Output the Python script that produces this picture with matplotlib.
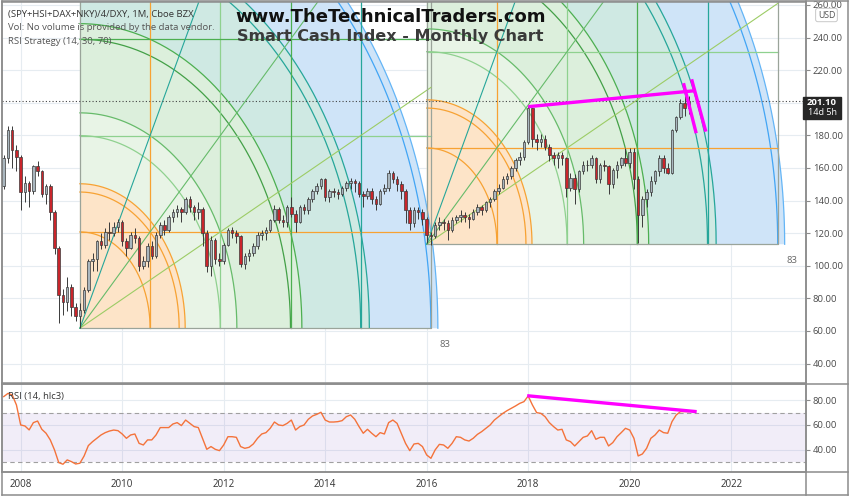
import numpy as np
import pandas as pd
import matplotlib
matplotlib.use("Agg")
import matplotlib.pyplot as plt
from matplotlib.patches import Rectangle
from matplotlib.lines import Line2D

plt.rcParams['font.family'] = ['Open Sans', 'DejaVu Sans']

# monthly bars Sep 2007 .. Mar 2021
months = pd.date_range("2007-09-01", "2021-03-01", freq="MS")
first_open = 149
closes = [
    166, 183, 171, 167,
    145, 151, 146, 161, 158, 144, 149, 133, 111, 82, 78, 87,
    75, 69, 73, 85, 103, 104, 115, 113, 121, 120, 124, 127,
    115, 111, 119, 117, 100, 103, 112, 106, 119, 125, 122, 130,
    133, 135, 133, 141, 136, 133, 135, 120, 100, 116, 104, 103,
    113, 122, 120, 118, 101, 106, 108, 112, 119, 120, 122, 128,
    135, 128, 127, 136, 132, 127, 136, 134, 141, 146, 149, 153,
    142, 146, 145, 144, 148, 151, 152, 151, 144, 143, 146, 141,
    138, 146, 148, 157, 153, 150, 146, 134, 126, 134, 133, 129,
    119, 118, 125, 127, 126, 122, 128, 130, 131, 130, 129, 133,
    136, 134, 139, 141, 146, 148, 153, 155, 160, 165, 167, 176,
    197, 178, 176, 178, 173, 168, 166, 168, 166, 148, 154, 147,
    158, 162, 162, 166, 153, 162, 161, 150, 159, 162, 166, 163,
    170, 153, 131, 141, 145, 152, 158, 166, 160, 157, 183, 191,
    200, 197, 201.1,
]
highs = [
    168, 186, 186, 174,
    168, 155, 152, 162, 164, 159, 150, 150, 134, 112, 86, 93,
    89, 77, 77, 87, 104, 108, 116, 120, 123, 127, 127, 129,
    128, 117, 121, 123, 118, 106, 114, 115, 121, 127, 128, 131,
    135, 137, 136, 142, 143, 137, 139, 136, 122, 118, 117, 108,
    114, 123, 124, 122, 119, 108, 110, 114, 121, 122, 124, 129,
    137, 136, 131, 137, 142, 134, 137, 138, 142, 147, 151, 154,
    154, 147, 148, 147, 149, 152, 154, 153, 152, 146, 148, 148,
    143, 147, 150, 159, 158, 155, 152, 147, 136, 136, 136, 135,
    130, 121, 127, 130, 129, 128, 130, 131, 134, 133, 132, 135,
    138, 137, 140, 142, 147, 150, 155, 157, 161, 166, 170, 177,
    198, 197, 181, 181, 180, 175, 170, 170, 170, 167, 157, 156,
    159, 164, 165, 168, 167, 163, 165, 162, 160, 164, 167, 172,
    172, 172, 155, 143, 147, 155, 159, 168, 168, 163, 184, 192,
    202, 204, 204,
]
lows = [
    147, 163, 160, 158,
    134, 139, 136, 144, 155, 142, 138, 128, 107, 65, 70, 72,
    69, 66, 62, 71, 84, 97, 97, 110, 111, 116, 118, 121,
    112, 106, 110, 114, 97, 98, 99, 104, 105, 117, 119, 121,
    127, 130, 127, 132, 133, 128, 129, 112, 96, 94, 101, 100,
    101, 112, 117, 114, 99, 98, 103, 106, 110, 116, 116, 121,
    127, 126, 124, 124, 130, 121, 126, 132, 132, 139, 144, 147,
    140, 139, 142, 141, 143, 146, 147, 145, 142, 136, 141, 138,
    134, 137, 144, 146, 151, 146, 141, 126, 122, 124, 129, 125,
    114, 113, 117, 122, 122, 116, 121, 126, 127, 127, 123, 128,
    131, 131, 133, 136, 140, 144, 147, 150, 153, 158, 162, 165,
    175, 173, 171, 173, 171, 164, 162, 160, 162, 142, 146, 138,
    145, 156, 158, 160, 151, 151, 158, 144, 148, 154, 160, 161,
    160, 147, 114, 124, 136, 143, 150, 155, 157, 156, 156, 182,
    190, 192, 193,
]
rsi = [
    83, 85.6, 84.3, 76.2,
    60, 59.2, 56, 61.9, 63.2, 56.5, 53.3, 47.9, 39.8, 29.5, 28.2, 31.7,
    30.3, 28.4, 29, 34.9, 43.3, 46.5, 49.2, 51.9, 53.8, 55.1, 55.9, 55.4,
    52.7, 49.2, 51.9, 52.7, 45.1, 43.8, 47.9, 47.9, 51.9, 57.9, 57.9, 57.9,
    60.8, 61.9, 59.5, 64, 61.3, 58.7, 57.9, 49.2, 40.3, 42.5, 40.3, 39.2,
    43.8, 50.5, 50.5, 50, 42.5, 41.1, 41.9, 44.6, 49.2, 52.7, 53.8, 57.3,
    62.4, 60, 59.5, 61.3, 64, 55.9, 58.7, 60, 64.6, 67.3, 68.6, 70.3,
    64, 62.4, 62.4, 62.7, 63.5, 66.7, 68.1, 64.6, 58.7, 53.3, 56.5, 53.3,
    50.5, 53.8, 52.7, 61.9, 64, 61.3, 53.3, 45.1, 39.2, 44.6, 45.1, 42.5,
    35.7, 33, 39.8, 44.3, 43.8, 41.1, 45.1, 50.5, 50, 47.9, 47, 49.2,
    52.4, 54.6, 57.3, 60, 64, 66.7, 69.4, 71.6, 73.5, 75.4, 77.5, 78.9,
    83.5, 76.2, 70, 69.4, 66.7, 61.9, 58.7, 55.9, 56.5, 47.9, 46.5, 43,
    46.5, 50, 51.1, 55.4, 48.4, 50, 50, 43, 45.7, 50.5, 53.8, 57.3,
    55.9, 49.2, 34.9, 36.5, 41.1, 49.2, 51.9, 55.9, 53.8, 53.3, 62.7, 68.1,
    70.8, 70.8, 70.8,
]

# Gann squares: start month, low price, 83 bars wide
box_starts = ["2009-03-01", "2016-01-01"]
box_lows = [61.7, 113.2]
box_bars = 83
box_height = 295.4

# hand drawn magenta lines (decimal year, value)
price_trend = ([2018.0, 2021.29], [197.6, 207.4])
tick_a = ([2021.06, 2021.31], [212.0, 181.3])
tick_b = ([2021.22, 2021.50], [214.4, 182.3])
rsi_trend = ([2017.98, 2021.32], [83.7, 70.8])
last_price = 201.10

year_ticks = [2008, 2010, 2012, 2014, 2016, 2018, 2020, 2022]
price_ticks = [40, 60, 80, 100, 120, 140, 160, 180, 200, 220, 240, 260]
rsi_ticks = [40, 60, 80]

PW, PH = 850, 496


def fx(x):
    return x / PW


def fy(y):
    return 1 - y / PH


def dec_year(d):
    return d.year + (d.month - 1) / 12.0


fig = plt.figure(figsize=(8.5, 4.96), dpi=100)
ax = fig.add_axes([fx(2), fy(383), fx(804), 381 / PH])
ax_r = fig.add_axes([fx(2), fy(472), fx(804), 88 / PH], sharex=ax)

grid_c = '#e6ecf1'
for a in (ax, ax_r):
    a.set_xlim(2007.632, 2023.474)
    for s in a.spines.values():
        s.set_color('#8c8c8c')
        s.set_linewidth(1.1)
    a.yaxis.tick_right()
    a.tick_params(axis='y', labelsize=6.8, labelcolor='#4a4a4a', length=3,
                  color='#8c8c8c', pad=2)
    a.set_xticks(year_ticks)
    a.grid(True, color=grid_c, lw=0.8, zorder=0)
    a.set_axisbelow(True)

ax.set_ylim(28.1, 261.8)
ax.set_yticks(price_ticks)
# the 200 label sits under the last-price tag
ax.set_yticklabels(["" if v == 200 else f"{v:.2f}" for v in price_ticks])
ax.tick_params(axis='x', labelbottom=False, length=0)

ax_r.set_ylim(21.9, 93.2)
ax_r.set_yticks(rsi_ticks)
ax_r.set_yticklabels([f"{v:.2f}" for v in rsi_ticks])
ax_r.tick_params(axis='x', labelsize=7, labelcolor='#333333', length=0, pad=5)
ax_r.set_xticklabels([str(y) for y in year_ticks])

# ---- Gann squares
arc_levels = [1, 1.414, 1.5, 2, 2.236, 3, 3.162, 4, 4.123, 5, 5.099]
arc_colors = ['#f7a233', '#f7a233', '#f7a233', '#8fd18f', '#66bb6a', '#43a047',
              '#4caf50', '#26a69a', '#26a69a', '#42a5f5', '#64b5f6']
band_edges = [0, 1.5, 2.236, 3.162, 4.123, 5.099]
band_fills = ['#fde4c8', '#e8f4e6', '#dcefdc', '#cfe9e3', '#cfe4f8']
grid_cols = ['#f7a233', '#8fd18f', '#4caf50', '#26a69a']
fans = [((5, 2.5), '#9ccc65'), ((5, 5), '#66bb6a'), ((2.5, 5), '#26a69a')]


def gann_square(a, x0, y0, w, h):
    th = np.linspace(0, np.pi / 2, 150)
    ux, uy = w / 5, h / 5
    for r0, r1, fc in zip(band_edges[:-1], band_edges[1:], band_fills):
        xs = np.r_[x0 + r1 * ux * np.cos(th), x0 + r0 * ux * np.cos(th[::-1])]
        ys = np.r_[y0 + r1 * uy * np.sin(th), y0 + r0 * uy * np.sin(th[::-1])]
        a.fill(xs, ys, color=fc, lw=0, zorder=1)
    for r, col in zip(arc_levels, arc_colors):
        a.plot(x0 + r * ux * np.cos(th), y0 + r * uy * np.sin(th),
               color=col, lw=0.9, zorder=2)
    for k, col in enumerate(grid_cols, start=1):
        a.plot([x0 + k * ux] * 2, [y0, y0 + h], color=col, lw=0.9, zorder=2)
        a.plot([x0, x0 + w], [y0 + k * uy] * 2, color=col, lw=0.9, zorder=2)
    a.plot([x0, x0, x0 + w, x0 + w], [y0 + h, y0, y0, y0 + h],
           color='#9aa49a', lw=0.9, zorder=2)
    for (gx, gy), col in fans:
        a.plot([x0, x0 + gx * ux], [y0, y0 + gy * uy], color=col, lw=0.8, zorder=2)
    a.annotate(str(box_bars), (x0 + w, y0), xytext=(14, -16),
               textcoords='offset pixels', ha='center', va='center',
               fontsize=6.8, color='#666666', zorder=6)


for start, low in zip(box_starts, box_lows):
    gann_square(ax, dec_year(pd.Timestamp(start)), low, box_bars / 12.0, box_height)

# ---- candles
t = np.array([dec_year(d) for d in months])
c = np.array(closes, dtype=float)
o = np.r_[first_open, c[:-1]]
up = c >= o
bw = 0.6 / 12
ax.vlines(t, lows, highs, color='#3a3a3a', lw=0.7, zorder=4)
ax.bar(t[up], (c - o)[up], bottom=o[up], width=bw, color='#a9b6be',
       edgecolor='#3a3a3a', lw=0.5, zorder=5)
ax.bar(t[~up], (o - c)[~up], bottom=c[~up], width=bw, color='#c9252b',
       edgecolor='#3a3a3a', lw=0.5, zorder=5)

ax.axhline(last_price, color='#444444', lw=0.8, ls=(0, (1, 2)), zorder=6)

mag = '#ff00ff'
for xs, ys in (price_trend, tick_a, tick_b):
    ax.plot(xs, ys, color=mag, lw=2.4, solid_capstyle='butt', zorder=7)

# ---- RSI pane
ax_r.axhspan(30, 70, color='#7e57c2', alpha=0.10, lw=0, zorder=1)
for lvl in (30, 70):
    ax_r.axhline(lvl, color='#a0a0a0', lw=0.8, ls=(0, (4, 3)), zorder=2)
ax_r.plot(t, rsi, color='#f4733b', lw=1.0, zorder=3)
ax_r.plot(*rsi_trend, color=mag, lw=2.4, solid_capstyle='butt', zorder=4)

# ---- texts
fig.text(fx(391), fy(17), "www.TheTechnicalTraders.com", family='DejaVu Sans',
         weight='bold', fontsize=13, color='#111111', ha='center', va='center', zorder=10)
fig.text(fx(390), fy(37), "Smart Cash Index - Monthly Chart", family='DejaVu Sans',
         weight='bold', fontsize=11.5, color='#3a3a3a', ha='center', va='center', zorder=10)
fig.text(fx(8), fy(14.5), "(SPY+HSI+DAX+NKY)/4/DXY, 1M, Cboe BZX", fontsize=6.8,
         color='#333333', va='center')
fig.text(fx(8), fy(27), "Vol: No volume is provided by the data vendor.", fontsize=6.8,
         color='#555555', va='center')
fig.text(fx(8), fy(41), "RSI Strategy (14, 30, 70)", fontsize=6.8,
         color='#555555', va='center')
fig.text(fx(8), fy(396), "RSI (14, hlc3)", fontsize=6.8, color='#333333', va='center')

# current price tag and currency box
fig.add_artist(Rectangle((fx(803), fy(118.5)), fx(38), 22 / PH,
                         transform=fig.transFigure, color='#262626', zorder=11))
fig.text(fx(822), fy(102.7), f"{last_price:.2f}", fontsize=6.8, color='white',
         weight='bold', ha='center', va='center', zorder=12)
fig.text(fx(822), fy(112.5), "14d 5h", fontsize=6.5, color='white',
         ha='center', va='center', zorder=12)
fig.text(fx(826.5), fy(15), "USD", fontsize=6.3, color='#555555', ha='center',
         va='center', zorder=12,
         bbox=dict(boxstyle='round,pad=0.25', fc='white', ec='#c8c8c8', lw=0.7))

# pane separators and outer border
for x0, y0, x1, y1 in [(2, 383.5, 848, 383.5), (2, 472, 848, 472),
                       (806, 1, 806, 495), (848, 1, 848, 495),
                       (2, 495, 848, 495), (2, 1, 848, 1), (2, 1, 2, 495)]:
    fig.add_artist(Line2D([fx(x0), fx(x1)], [fy(y0), fy(y1)], color='#8c8c8c',
                          lw=1.1, transform=fig.transFigure, zorder=9))

fig.savefig("out.png", dpi=100, facecolor='white')
